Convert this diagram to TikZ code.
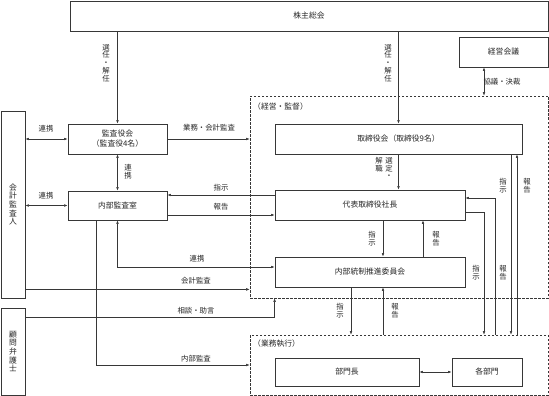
\documentclass[tikz,border=0pt]{standalone}
\usepackage{fontspec}
\setmainfont{Noto Sans CJK JP}
\usetikzlibrary{arrows.meta}
\definecolor{lineGray}{RGB}{55,55,55}
\newcommand{\boxfont}{\fontsize{7.8}{10}\selectfont}
\newcommand{\vboxfont}{\fontsize{7.8}{8.6}\selectfont}
\newcommand{\lblfont}{\fontsize{7.4}{7.8}\selectfont}
\tikzset{
  orgbox/.style 2 args={draw=lineGray, line width=0.8pt, fill=white, minimum width=#1, minimum height=#2,
    inner sep=0pt, font=\boxfont, align=center},
  area/.style={draw=lineGray, line width=0.6pt, dash pattern=on 2.5pt off 1.5pt, inner sep=0pt},
  hlab/.style={font=\lblfont, inner sep=0pt},
  vlab/.style={font=\lblfont, inner sep=0pt, align=center},
  arr/.style={-{Latex[length=3.5pt,width=2.6pt]}, line width=0.5pt, draw=lineGray},
  arr2/.style={{Latex[length=3.5pt,width=2.6pt]}-{Latex[length=3.5pt,width=2.6pt]}, line width=0.5pt, draw=lineGray}
}

\begin{document}
\begin{tikzpicture}[x=1pt, y=-1pt, text=black!85]
    \useasboundingbox (0,0) rectangle (549,396);
    % areas
    \node[area, minimum width=298, minimum height=202] (keiei) at (399,197) {};
    \node[area, minimum width=298, minimum height=60] (gyomu) at (399,365) {};
    \node[hlab, anchor=west, font=\boxfont] (keieiLbl) at (253,107) {（経営・監督）};
    \node[hlab, anchor=west, font=\boxfont] (gyomuLbl) at (253,344) {（業務執行）};
    % boxes
    \node[orgbox={478}{30}] (soukai) at (309,16) {株主総会};
    \node[orgbox={89}{30}] (kaigi) at (503.5,52) {経営会議};
    \node[orgbox={247}{30}] (torishimari) at (398.5,139) {取締役会（取締役9名）};
    \node[orgbox={99}{30}] (kansa) at (117.5,139) {監査役会\\（監査役4名）};
    \node[orgbox={99}{29}] (naibu) at (117.5,205.5) {内部監査室};
    \node[orgbox={24}{187}, font=\vboxfont] (kaikei) at (13,204.5) {会\\計\\監\\査\\人};
    \node[orgbox={24}{87}, font=\vboxfont] (komon) at (13,351.5) {顧\\問\\弁\\護\\士};
    \node[orgbox={190}{30}] (shacho) at (370,205) {代表取締役社長};
    \node[orgbox={190}{30}] (iinkai) at (370,272) {内部統制推進委員会};
    \node[orgbox={144}{28}] (buchou) at (347,372) {部門長};
    \node[orgbox={70}{28}] (kakubu) at (487,372) {各部門};
    % connectors
    \draw[arr] (soukai.south -| kansa) -- (kansa.north);
    \draw[arr] (soukai.south -| torishimari) -- (torishimari.north);
    \draw[arr2] ([xshift=-19.5pt]kaigi.south) -- ([xshift=-19.5pt]kaigi.south |- keiei.north);
    \draw[arr2] (kaikei.east |- kansa.west) -- (kansa.west);
    \draw[arr2] (kaikei.east |- naibu.west) -- (naibu.west);
    \draw[arr2] (kansa.south) -- (naibu.north);
    \draw[arr] (kansa.east) -- (kansa.east -| keiei.west);
    \draw[arr] ([yshift=10pt]shacho.west) -- ([yshift=10pt]shacho.west -| naibu.east);
    \draw[arr] ([yshift=-9.5pt]naibu.east) -- ([yshift=-9.5pt]naibu.east -| shacho.west);
    \draw[arr2] (naibu.south) |- ([yshift=5pt]iinkai.west);
    \draw[arr] ([yshift=9pt]kaikei.south east) -- ([yshift=9pt]kaikei.south east -| keiei.west);
    \draw[arr] ([yshift=-10pt]komon.north east) -| (keiei.south -| iinkai.west);
    \draw[arr] ([xshift=29pt]naibu.south west) |- (gyomu.west);
    \draw[arr] (torishimari.south) -- (torishimari.south |- shacho.north);
    \draw[arr] ([xshift=13pt]shacho.south) -- ([xshift=13pt]shacho.south |- iinkai.north);
    \draw[arr] ([xshift=53pt]iinkai.north) -- ([xshift=53pt]iinkai.north |- shacho.south);
    \draw[arr] ([xshift=-19pt]iinkai.south) -- ([xshift=-19pt]iinkai.south |- gyomu.north);
    \draw[arr] ([xshift=13pt]iinkai.south |- gyomu.north) -- ([xshift=13pt]iinkai.south);
    \draw[arr] ([yshift=-7pt]shacho.east) -| ([xshift=85pt]gyomu.north);
    \draw[arr] ([xshift=96pt]gyomu.north) |- ([yshift=7pt]shacho.east);
    \draw[arr] ([xshift=112.5pt]torishimari.south) -- ([xshift=112.5pt]torishimari.south |- gyomu.north);
    \draw[arr] ([xshift=118.5pt]torishimari.south |- gyomu.north) -- ([xshift=118.5pt]torishimari.south);
    \draw[arr2] (buchou.east) -- (kakubu.west);
    % labels
    \node[vlab] (lbSen1) at (106,63) {選\\任\\・\\解\\任};
    \node[vlab] (lbSen2) at (388,63) {選\\任\\・\\解\\任};
    \node[hlab] (lbKyogi) at (502,82) {協議・決裁};
    \node[hlab] (lbRen1) at (46,129) {連携};
    \node[hlab] (lbRen2) at (46,196) {連携};
    \node[vlab] (lbRen3) at (128,172) {連\\携};
    \node[hlab] (lbGyo) at (209,128) {業務・会計監査};
    \node[hlab] (lbShiji1) at (221,188) {指示};
    \node[hlab] (lbHou1) at (221,207) {報告};
    \node[hlab] (lbRen4) at (197,259) {連携};
    \node[hlab] (lbKai) at (196,281) {会計監査};
    \node[hlab] (lbSoudan) at (196,311) {相談・助言};
    \node[hlab] (lbNaibu) at (196,359) {内部監査};
    \node[vlab, anchor=north] (lbSentei) at (389,157) {選\\定\\・};
    \node[vlab, anchor=north] (lbKaishoku) at (379,157) {解\\職};
    \node[vlab] (lbShiji2) at (372,239) {指\\示};
    \node[vlab] (lbHou2) at (436,239) {報\\告};
    \node[vlab] (lbShiji3) at (340,311) {指\\示};
    \node[vlab] (lbHou3) at (395,311) {報\\告};
    \node[vlab] (lbShiji4) at (476,273) {指\\示};
    \node[vlab] (lbHou4) at (503,273) {報\\告};
    \node[vlab] (lbShiji5) at (503,186) {指\\示};
    \node[vlab] (lbHou5) at (527,186) {報\\告};
\end{tikzpicture}
\end{document}
